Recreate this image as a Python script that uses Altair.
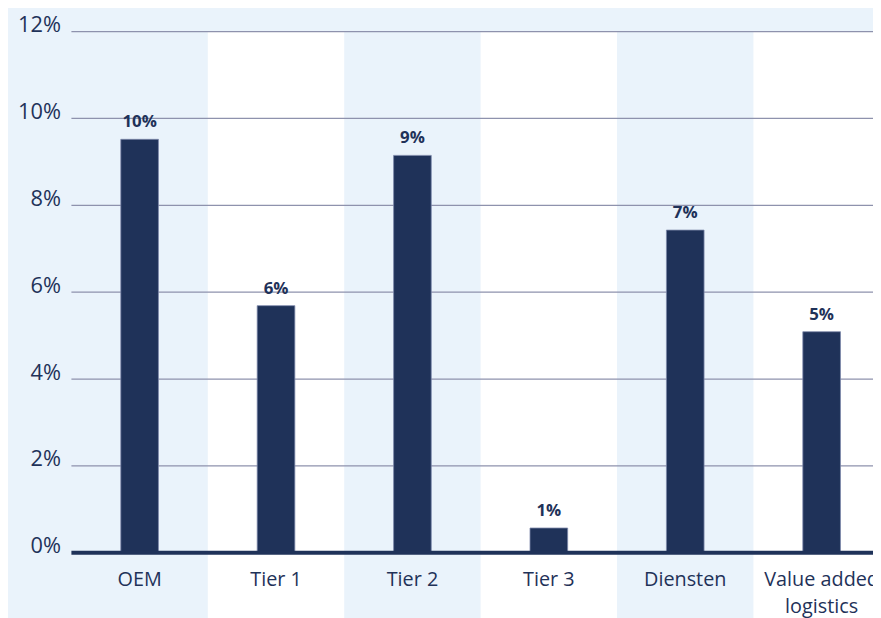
import altair as alt
import pandas as pd

# ---- data ----
categories = ["OEM", "Tier 1", "Tier 2", "Tier 3", "Diensten", "Value added logistics"]
values = [9.52, 5.69, 9.15, 0.57, 7.43, 5.09]
value_labels = ["10%", "6%", "9%", "1%", "7%", "5%"]
shade = ["blue", "white", "blue", "white", "blue", "white"]
grid_values = [2, 4, 6, 8, 10, 12]
tick_values = [0, 2, 4, 6, 8, 10, 12]

NAVY = "#1F3259"
BG = "#EAF3FB"
GRID = "#8E92AD"
FONT = "Open Sans"

df = pd.DataFrame({"cat": categories, "value": values, "label": value_labels, "shade": shade})
grid_df = pd.DataFrame({"g": grid_values})
base_df = pd.DataFrame({"z": [0]})

W, H = 809, 526

xscale = alt.Scale(domain=categories, range=[0, 826], paddingInner=0, paddingOuter=0)
yscale = alt.Scale(domain=[0, 12], nice=False)

x_axis = alt.Axis(
    title=None,
    labelAngle=0,
    ticks=False,
    domain=False,
    grid=False,
    labelPadding=17,
    labelFontSize=20,
    labelFont=FONT,
    labelColor=NAVY,
    labelBaseline="top",
    labelLineHeight=27,
    labelOverlap=False,
    labelLimit=0,
    labelExpr="datum.label == 'Value added logistics' ? ['Value added', 'logistics'] : datum.label",
)

y_axis = alt.Axis(
    title=None,
    values=tick_values,
    labelExpr="datum.value + '%'",
    grid=False,
    ticks=False,
    domain=False,
    labelPadding=11,
    labelFontSize=22,
    labelFont=FONT,
    labelColor=NAVY,
    labelBaseline="alphabetic",
)

bands = (
    alt.Chart(df)
    .transform_filter(alt.datum.shade == "white")
    .mark_rect(color="white")
    .encode(
        x=alt.X("cat:N", scale=xscale, axis=x_axis),
        y=alt.value(0),
        y2=alt.value(720),
    )
)

grid = (
    alt.Chart(grid_df)
    .mark_rule(color=GRID, strokeWidth=1.2)
    .encode(y=alt.Y("g:Q", scale=yscale, axis=y_axis), x=alt.value(0), x2=alt.value(W))
)

bars = (
    alt.Chart(df)
    .mark_bar(color=NAVY, width=38, stroke="#7C88AA", strokeWidth=0.8)
    .encode(
        x=alt.X("cat:N", scale=xscale),
        y=alt.Y("value:Q", scale=yscale),
    )
)

baseline = (
    alt.Chart(base_df)
    .mark_rule(color=NAVY, strokeWidth=4)
    .encode(y=alt.Y("z:Q", scale=yscale), x=alt.value(0), x2=alt.value(W))
)

texts = (
    alt.Chart(df)
    .mark_text(dy=-12, baseline="alphabetic", fontWeight="bold", fontSize=17, color=NAVY, font=FONT)
    .encode(
        x=alt.X("cat:N", scale=xscale),
        y=alt.Y("value:Q", scale=yscale),
        text="label:N",
    )
)

chart = (
    alt.layer(bands, grid, bars, baseline, texts)
    .properties(
        width=W,
        height=H,
        autosize=alt.AutoSizeParams(type="none"),
        padding={"left": 64, "top": 21, "right": 0, "bottom": 63},
        background=BG,
    )
    .configure_view(stroke=None)
)

chart.save("out.html", embed_options={"renderer": "svg", "actions": False})
